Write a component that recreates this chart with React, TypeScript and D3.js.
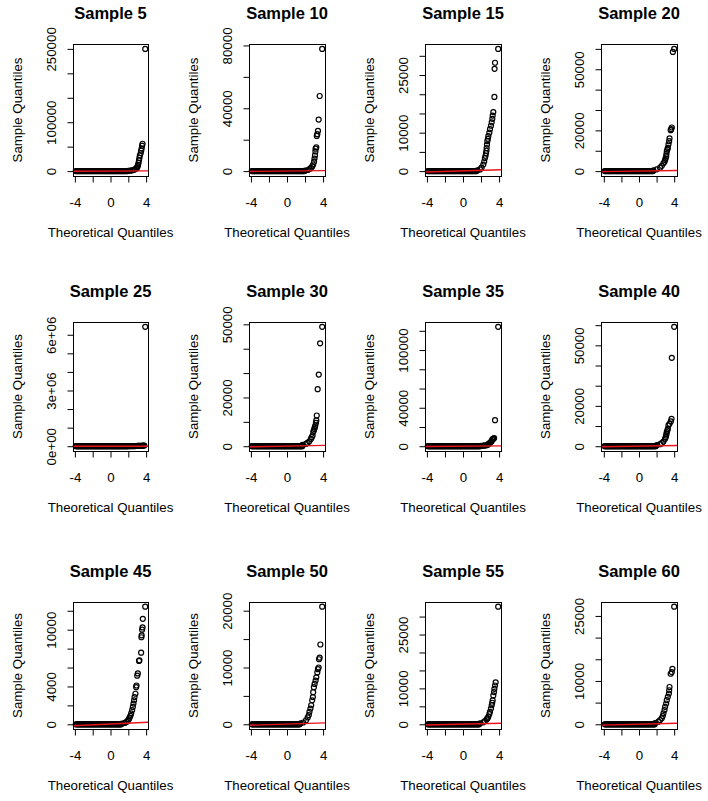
import React, { useRef, useEffect } from "react";
import * as d3 from "d3";

// panel titles, row by row
const titles = [
  "Sample 5", "Sample 10", "Sample 15", "Sample 20",
  "Sample 25", "Sample 30", "Sample 35", "Sample 40",
  "Sample 45", "Sample 50", "Sample 55", "Sample 60",
];

// largest theoretical quantile of each panel (the smallest is its negative)
const qMax = [3.9, 3.9, 3.9, 4.0, 3.9, 3.9, 3.9, 4.0, 3.9, 3.9, 3.9, 4.0];

// theoretical quantiles of the flat part, where the sample values sit at ~0
const bandQ = [
  -3.9, -3.8, -3.7, -3.6, -3.5, -3.4, -3.3, -3.2, -3.1, -3.0,
  -2.9, -2.8, -2.7, -2.6, -2.5, -2.4, -2.3, -2.2, -2.1, -2.0,
  -1.9, -1.8, -1.7, -1.6, -1.5, -1.4, -1.3, -1.2, -1.1, -1.0,
  -0.9, -0.8, -0.7, -0.6, -0.5, -0.4, -0.3, -0.2, -0.1, 0,
  0.1, 0.2, 0.3, 0.4, 0.5, 0.6, 0.7, 0.8, 0.9, 1.0,
  1.1, 1.2, 1.3, 1.4, 1.5, 1.6, 1.7, 1.8, 1.9,
];

// upper tails: [theoretical quantile, sample quantile]
const tail5 = [
  [2.0, 500], [2.2, 900], [2.4, 1500], [2.6, 2500], [2.75, 3800], [2.9, 5500],
  [3.0, 7500], [3.05, 10000], [3.1, 13000], [3.15, 17000], [3.2, 22000],
  [3.25, 27000], [3.3, 32000], [3.4, 37000], [3.45, 42000], [3.5, 46000],
  [3.55, 52000], [3.6, 56000], [3.9, 250000],
];
const tail10 = [
  [2.0, 250], [2.3, 700], [2.5, 1300], [2.65, 2000], [2.8, 3000], [2.9, 4200],
  [3.0, 6000], [3.05, 8000], [3.1, 10000], [3.15, 12500], [3.17, 14300],
  [3.25, 15200], [3.3, 22400], [3.36, 23500], [3.43, 25600], [3.51, 32800],
  [3.62, 47800], [3.9, 77800],
];
const tail15 = [
  [1.6, 200], [1.88, 450], [2.06, 900], [2.25, 1700], [2.35, 2500],
  [2.43, 3400], [2.5, 4000], [2.55, 4700], [2.6, 5300], [2.62, 6000], [2.66, 6900],
  [2.7, 7800], [2.76, 8400], [2.81, 9100], [2.92, 10000], [2.99, 10900],
  [3.1, 11800], [3.18, 12700], [3.25, 13600], [3.29, 14460], [3.36, 15350],
  [3.48, 19300], [3.5, 26600], [3.55, 28200], [3.9, 31800],
];
const tail20 = [
  [1.64, 400], [2.02, 900], [2.4, 1700], [2.59, 2600], [2.78, 3850],
  [2.9, 4600], [2.97, 5500], [3.03, 6300], [3.09, 7200], [3.12, 8400],
  [3.16, 9700], [3.22, 10500], [3.28, 11400], [3.35, 13100], [3.43, 14700],
  [3.47, 16100], [3.6, 20100], [3.66, 20600], [3.73, 21400], [3.85, 58500],
  [4.0, 60000],
];
const tail25 = [
  [2.0, 5000], [2.1, 5500], [2.2, 6000], [2.3, 6500], [2.4, 7000],
  [2.5, 7800], [2.6, 8500], [2.7, 9500], [2.8, 10500], [2.9, 12000],
  [3.0, 13500], [3.1, 15000], [3.2, 17000], [3.3, 19000], [3.4, 22000],
  [3.5, 25000], [3.6, 29000], [3.7, 34000], [3.8, 40000], [3.9, 6430000],
];
const tail30 = [
  [1.71, 550], [2.09, 960], [2.27, 1400], [2.46, 1900], [2.65, 3000],
  [2.75, 3700], [2.84, 4400], [2.91, 5800], [2.97, 6400], [3.03, 7100],
  [3.09, 7800], [3.14, 8500], [3.21, 9600], [3.25, 10600], [3.3, 12600],
  [3.4, 23400], [3.52, 29400], [3.67, 42200], [3.9, 49000],
];
const tail35 = [
  [2.0, 300], [2.15, 450], [2.3, 600], [2.45, 800], [2.62, 1000],
  [2.72, 1500], [2.81, 2100], [2.9, 2800], [2.99, 3500], [3.08, 4300],
  [3.18, 5200], [3.25, 7000], [3.3, 7300], [3.36, 7650], [3.4, 8000],
  [3.45, 8500], [3.55, 27100], [3.9, 124200],
];
const tail40 = [
  [2.02, 500], [2.4, 1000], [2.59, 1500], [2.78, 2300], [2.97, 3650],
  [3.03, 4400], [3.09, 5300], [3.12, 6100], [3.16, 7000], [3.22, 7800],
  [3.28, 8600], [3.35, 10300], [3.47, 11100], [3.62, 12300], [3.7, 13600],
  [3.73, 43800], [4.0, 59200],
];
const tail45 = [
  [1.3, 80], [1.6, 150], [1.8, 250], [1.95, 380], [2.05, 520],
  [2.14, 700], [2.24, 900], [2.32, 1150], [2.43, 1490], [2.51, 1840],
  [2.58, 2190], [2.65, 2530], [2.7, 2880], [2.8, 3230], [2.88, 3920],
  [2.92, 4100], [3.0, 5140], [3.07, 5380], [3.2, 6700], [3.25, 6770],
  [3.44, 7570], [3.47, 9200], [3.5, 9400], [3.55, 10000], [3.6, 10240],
  [3.63, 11150], [3.9, 12430],
];
const tail50 = [
  [1.5, 150], [1.8, 320], [2.11, 700], [2.3, 1210], [2.42, 1620],
  [2.49, 2200], [2.6, 2770], [2.68, 3350], [2.79, 4220], [2.87, 4800],
  [2.9, 5660], [2.98, 6530], [3.06, 7110], [3.17, 7690], [3.25, 8270],
  [3.36, 9130], [3.43, 9700], [3.51, 10000], [3.55, 11450], [3.62, 11730],
  [3.7, 14050], [3.9, 20700],
];
const tail55 = [
  [1.88, 270], [2.25, 550], [2.43, 915], [2.62, 1370], [2.72, 1700],
  [2.81, 2100], [2.92, 2840], [2.99, 3480], [3.1, 4390], [3.18, 5300],
  [3.24, 6000], [3.29, 6680], [3.36, 8050], [3.44, 8970], [3.48, 9880],
  [3.55, 10800], [3.62, 11700], [3.9, 32750],
];
const tail60 = [
  [1.83, 300], [2.21, 610], [2.4, 990], [2.59, 1370], [2.7, 1900],
  [2.78, 2520], [2.9, 3280], [2.97, 4040], [3.09, 4800], [3.16, 5560],
  [3.28, 6330], [3.4, 7090], [3.43, 7850], [3.47, 8610], [3.6, 11660],
  [3.73, 12040], [3.8, 12800], [4.0, 27130],
];
const tails = [
  tail5, tail10, tail15, tail20, tail25, tail30,
  tail35, tail40, tail45, tail50, tail55, tail60,
];

// qqline: [intercept, slope]
const qqLine = [
  [60, 90], [40, 60], [50, 70], [45, 65], [300, 400], [50, 70],
  [60, 80], [45, 65], [30, 45], [35, 50], [40, 55], [35, 50],
];

// y ticks and the tick labels R kept
const yTicks = [
  [0, 50000, 100000, 150000, 200000, 250000],
  [0, 20000, 40000, 60000, 80000],
  [0, 5000, 10000, 15000, 20000, 25000, 30000],
  [0, 10000, 20000, 30000, 40000, 50000, 60000],
  [0, 1e6, 2e6, 3e6, 4e6, 5e6, 6e6],
  [0, 10000, 20000, 30000, 40000, 50000],
  [0, 20000, 40000, 60000, 80000, 100000, 120000],
  [0, 10000, 20000, 30000, 40000, 50000, 60000],
  [0, 2000, 4000, 6000, 8000, 10000, 12000],
  [0, 5000, 10000, 15000, 20000],
  [0, 5000, 10000, 15000, 20000, 25000, 30000],
  [0, 5000, 10000, 15000, 20000, 25000],
];
const yLabelVals = [
  [0, 100000, 250000],
  [0, 40000, 80000],
  [0, 10000, 25000],
  [0, 20000, 50000],
  [0, 3e6, 6e6],
  [0, 20000, 50000],
  [0, 40000, 100000],
  [0, 20000, 50000],
  [0, 4000, 10000],
  [0, 10000, 20000],
  [0, 10000, 25000],
  [0, 10000, 25000],
];
const yLabelText = [
  ["0", "100000", "250000"],
  ["0", "40000", "80000"],
  ["0", "10000", "25000"],
  ["0", "20000", "50000"],
  ["0e+00", "3e+06", "6e+06"],
  ["0", "20000", "50000"],
  ["0", "40000", "100000"],
  ["0", "20000", "50000"],
  ["0", "4000", "10000"],
  ["0", "10000", "20000"],
  ["0", "10000", "25000"],
  ["0", "10000", "25000"],
];
const xTicks = [-4, -2, 0, 2, 4];
const xLabelVals = [-4, 0, 4];

// plot boxes
const colLeft = [73, 249, 425, 601];
const colWidth = [75, 76, 76, 76];
const rowTop = [44, 322, 602];
const rowHeight = [132, 129, 127];

const FONT = "'Liberation Sans', Arial, sans-serif";

const App = () => {
  const ref = useRef(null);

  useEffect(() => {
    const svg = d3.select(ref.current);
    svg.selectAll("*").remove();

    titles.forEach((title, i) => {
      const col = i % 4;
      const row = Math.floor(i / 4);
      const left = colLeft[col];
      const top = rowTop[row];
      const w = colWidth[col];
      const h = rowHeight[row];

      const tail = tails[i];
      const pts = bandQ
        .filter((q) => q < tail[0][0])
        .map((q) => [q, 0])
        .concat(tail);

      const q = qMax[i];
      const x = d3
        .scaleLinear()
        .domain([-q * 1.08, q * 1.08])
        .range([left, left + w]);
      const [lo, hi] = d3.extent(pts, (d) => d[1]);
      const pad = 0.04 * (hi - lo);
      const y = d3
        .scaleLinear()
        .domain([lo - pad, hi + pad])
        .range([top + h, top]);

      const g = svg.append("g");

      // points
      g.append("g")
        .selectAll("circle")
        .data(pts)
        .enter()
        .append("circle")
        .attr("cx", (d) => x(d[0]))
        .attr("cy", (d) => y(d[1]))
        .attr("r", 2.5)
        .attr("fill", "none")
        .attr("stroke", "#000")
        .attr("stroke-width", 1.2);

      // qqline
      const [a, b] = qqLine[i];
      const [x0, x1] = x.domain();
      g.append("line")
        .attr("x1", x(x0))
        .attr("x2", x(x1))
        .attr("y1", y(a + b * x0))
        .attr("y2", y(a + b * x1))
        .attr("stroke", "#e8141b")
        .attr("stroke-width", 1.4);

      // box
      g.append("rect")
        .attr("x", left + 0.5)
        .attr("y", top + 0.5)
        .attr("width", w)
        .attr("height", h)
        .attr("fill", "none")
        .attr("stroke", "#000")
        .attr("stroke-width", 1);

      // x axis
      const gx = g
        .append("g")
        .attr("transform", `translate(0, ${top + h + 0.5})`)
        .call(
          d3
            .axisBottom(x)
            .tickValues(xTicks)
            .tickSize(6)
            .tickSizeOuter(0)
            .tickFormat((d) => (xLabelVals.includes(d) ? String(d) : ""))
        );
      gx.select(".domain").remove();
      gx.attr("font-size", 13.3).attr("font-family", FONT);
      gx.selectAll("text").attr("y", 21).attr("fill", "#000");
      gx.selectAll("line").attr("stroke", "#000");

      // y axis
      const labels = yLabelVals[i];
      const gy = g
        .append("g")
        .attr("transform", `translate(${left + 0.5}, 0)`)
        .call(
          d3
            .axisLeft(y)
            .tickValues(yTicks[i])
            .tickSize(6)
            .tickSizeOuter(0)
            .tickFormat((d) => {
              const k = labels.indexOf(d);
              return k < 0 ? "" : yLabelText[i][k];
            })
        );
      gy.select(".domain").remove();
      gy.attr("font-size", 13.3).attr("font-family", FONT);
      gy.selectAll("text")
        .attr("x", 0)
        .attr("dy", null)
        .attr("text-anchor", "middle")
        .attr("transform", "translate(-18, 0) rotate(-90)")
        .attr("fill", "#000");
      gy.selectAll("line").attr("stroke", "#000");

      // titles
      g.append("text")
        .attr("x", left + w / 2)
        .attr("y", top - 25)
        .attr("text-anchor", "middle")
        .attr("font-family", FONT)
        .attr("font-weight", "bold")
        .attr("font-size", 16.5)
        .text(title);

      g.append("text")
        .attr("x", left + w / 2)
        .attr("y", top + h + 61)
        .attr("text-anchor", "middle")
        .attr("font-family", FONT)
        .attr("font-size", 13.3)
        .text("Theoretical Quantiles");

      g.append("text")
        .attr("transform", `translate(${left - 51.5}, ${top + h / 2}) rotate(-90)`)
        .attr("text-anchor", "middle")
        .attr("font-family", FONT)
        .attr("font-size", 13.3)
        .text("Sample Quantiles");
    });
  }, []);

  return (
    <svg
      ref={ref}
      width={708}
      height={801}
      style={{ position: "absolute", left: 0, top: 0, background: "#fff" }}
    ></svg>
  );
};

export default App;
